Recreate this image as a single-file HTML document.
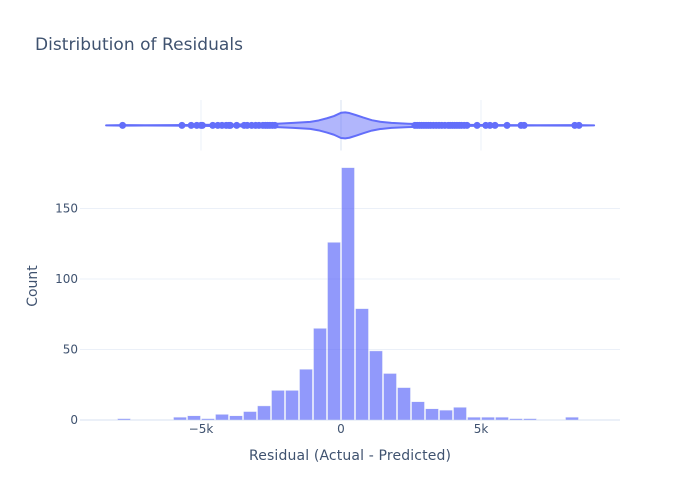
<!DOCTYPE html>
<html>
<head>
<meta charset="utf-8">
<title>Distribution of Residuals</title>
<style>
html,body{margin:0;padding:0;background:#fff;}
svg{display:block;}
text{font-family:"DejaVu Sans","Liberation Sans",sans-serif;fill:#2a3f5f;fill-opacity:0.9;}
</style>
</head>
<body>
<svg id="chart" width="700" height="500" viewBox="0 0 700 500" xmlns="http://www.w3.org/2000/svg">
<text x="35" y="50" font-size="17" textLength="208">Distribution of Residuals</text>
<text x="249" y="460" font-size="14" textLength="202">Residual (Actual - Predicted)</text>
<text x="37" y="286" font-size="14" text-anchor="middle" transform="rotate(-90 37 286)">Count</text>
<g id="marginal-grid"></g>
<g id="main-grid"></g>
<g id="bars" opacity="0.7"></g>
<g id="violin"></g>
<g id="ticks"></g>
</svg>
<script>
const binStarts = [-8000,-6000,-5500,-5000,-4500,-4000,-3500,-3000,-2500,-2000,-1500,-1000,-500,0,500,1000,1500,2000,2500,3000,3500,4000,4500,5000,5500,6000,6500,8000];
const binCounts = [1,2,3,1,4,3,6,10,21,21,36,65,126,179,79,49,33,23,13,8,7,9,2,2,2,1,1,2];
const binWidth = 500;
const yTicks = [0,50,100,150];
const yTickLabels = ['0','50','100','150'];
const xTicks = [-5000,0,5000];
const xTickLabels = ['\u22125k','0','5k'];
const violinGrid = [-8390,-7800,-7000,-6000,-5000,-4000,-3000,-2300,-1700,-1100,-800,-500,-250,0,150,300,550,800,1100,1400,1800,2400,3000,3600,4200,5000,6000,7000,8400,9040];
const violinDensity = [0,0.02,0.01,0.02,0.04,0.06,0.09,0.13,0.19,0.27,0.38,0.55,0.72,0.97,1,0.95,0.78,0.6,0.4,0.28,0.19,0.13,0.09,0.07,0.05,0.03,0.02,0.01,0.02,0];
const outlierPoints = [-7800,-5680,-5350,-5150,-5000,-4950,-4580,-4400,-4250,-4100,-4000,-3950,-3725,-3460,-3350,-3190,-3050,-2930,-2790,-2700,-2620,-2540,-2450,-2360,2640,2720,2800,2880,2960,3040,3120,3200,3300,3400,3500,3600,3710,3830,3900,3980,4060,4140,4220,4300,4400,4500,4860,5170,5320,5500,5930,6430,6540,8350,8500];

const NS = 'http://www.w3.org/2000/svg';
const X_LEFT = 80, X_RIGHT = 620, X_ZERO = 341, X_PER_UNIT = 0.028;
const Y_ZERO = 420, Y_PER_COUNT = 1.41;
const VIOLIN_Y = 125.4, VIOLIN_HALF = 13, MARG_TOP = 100, MARG_BOTTOM = 150.5;
const BLUE = '#636efa', GRID = '#ebf0f8';
const xScale = v => X_ZERO + v * X_PER_UNIT;
const yScale = c => Y_ZERO - c * Y_PER_COUNT;

function make(tag, attrs, parent) {
  const el = document.createElementNS(NS, tag);
  for (const k in attrs) el.setAttribute(k, attrs[k]);
  parent.appendChild(el);
  return el;
}

const marginalGrid = document.getElementById('marginal-grid');
xTicks.forEach(t => {
  const line = make('line', {x1: xScale(t), x2: xScale(t), y1: MARG_TOP, y2: MARG_BOTTOM, stroke: GRID, 'stroke-width': t === 0 ? 2 : 1}, marginalGrid);
  
  
});

const mainGrid = document.getElementById('main-grid');
yTicks.forEach(t => {
  const line = make('line', {x1: X_LEFT, x2: X_RIGHT, y1: yScale(t), y2: yScale(t), stroke: GRID, 'stroke-width': t === 0 ? 2 : 1}, mainGrid);
  
  
});

const barsGroup = document.getElementById('bars');
binStarts.forEach((start, i) => {
  const x0 = xScale(start), x1 = xScale(start + binWidth);
  const rect = make('rect', {x: x0 + 0.5, y: yScale(binCounts[i]), width: x1 - x0 - 1, height: Y_ZERO - yScale(binCounts[i]), fill: BLUE, stroke: GRID, 'stroke-width': 0.5}, barsGroup);
  
  
});

const violinGroup = document.getElementById('violin');
const upper = violinGrid.map((v, i) => xScale(v) + ',' + (VIOLIN_Y - violinDensity[i] * VIOLIN_HALF));
const lower = violinGrid.map((v, i) => xScale(v) + ',' + (VIOLIN_Y + violinDensity[i] * VIOLIN_HALF)).reverse();
const shape = make('path', {d: 'M' + upper.concat(lower).join('L') + 'Z', fill: BLUE, 'fill-opacity': 0.5, stroke: BLUE, 'stroke-width': 2, 'stroke-linejoin': 'round'}, violinGroup);


outlierPoints.forEach(v => {
  const dot = make('circle', {cx: xScale(v), cy: VIOLIN_Y, r: 3.5, fill: BLUE}, violinGroup);
  
  
});

const ticksGroup = document.getElementById('ticks');
yTicks.forEach((t, i) => {
  const label = make('text', {x: 78, y: yScale(t) + 4, 'font-size': 12, 'text-anchor': 'end'}, ticksGroup);
  label.textContent = yTickLabels[i];
  
  
});
xTicks.forEach((t, i) => {
  const label = make('text', {x: xScale(t), y: 433, 'font-size': 12, 'text-anchor': 'middle'}, ticksGroup);
  label.textContent = xTickLabels[i];
  
  
});
</script>
</body>
</html>
